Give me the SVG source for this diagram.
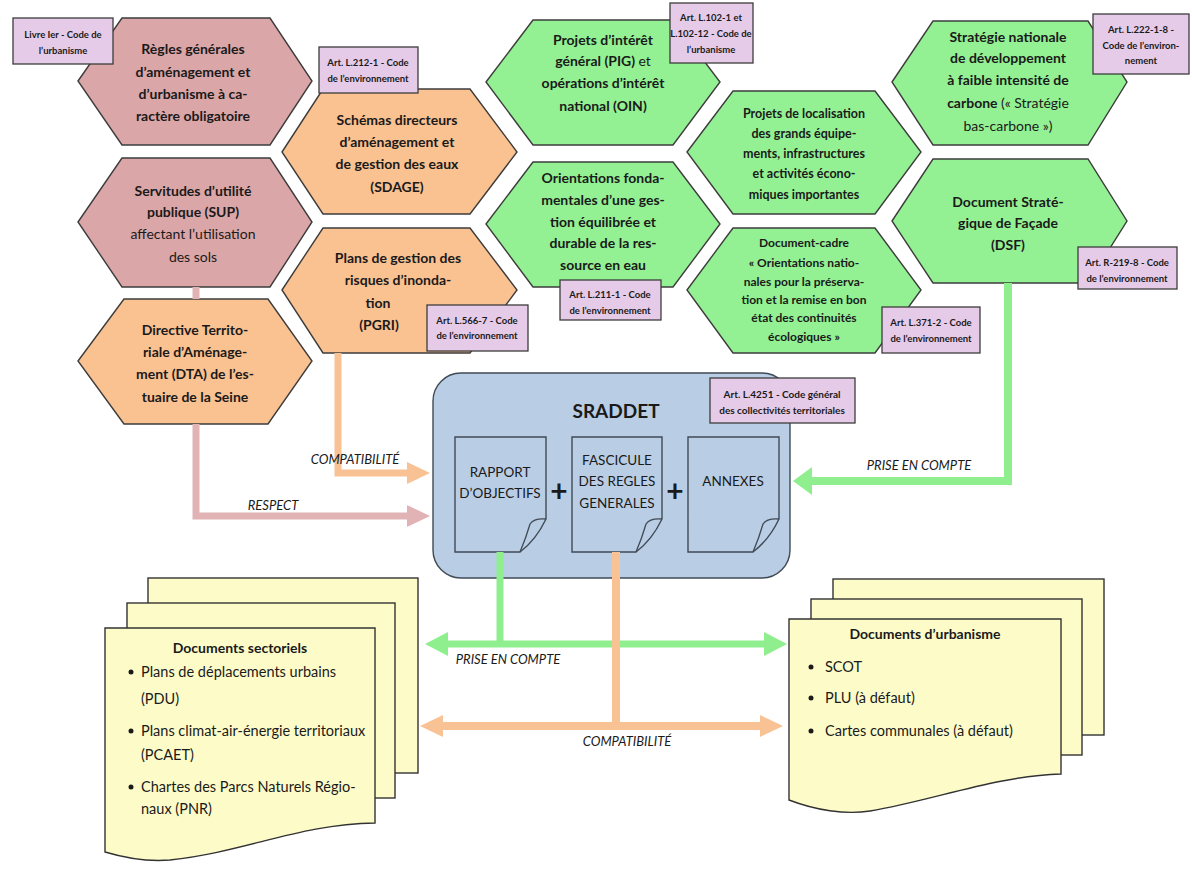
<svg xmlns="http://www.w3.org/2000/svg" width="1192" height="870" viewBox="0 0 1192 870">
<style>
text{font-family:Lato,"Liberation Sans",sans-serif;fill:#1a1a1a;text-anchor:middle}
.hx{stroke:#3c3c3c;stroke-width:1.4}
.pink{fill:#dba6a8}
.orange{fill:#fac191}
.green{fill:#93f193}
.ht{font-size:14px;font-weight:bold}
.hn{font-weight:normal}
.lab rect{fill:#e5cbe8;stroke:#3c3c3c;stroke-width:1.3}
.lt{font-size:9.5px;font-weight:bold}
.page{fill:#fdfcc9;stroke:#333;stroke-width:1.4}
.blue{fill:#b9cde4;stroke:#404a55;stroke-width:1.4}
.dt{font-size:13.5px}
.ct{font-size:13px;font-style:italic}
.bt{font-size:14.5px;text-anchor:start}
.tt{font-size:14px;font-weight:bold}
.ln{fill:none;stroke-linejoin:miter}
</style>
<defs>
<marker id="ahPink" markerUnits="userSpaceOnUse" markerWidth="23" markerHeight="22" viewBox="0 0 23 22" refX="1" refY="11" orient="auto-start-reverse"><path d="M0,0 L23,11 L0,22Z" fill="#e2b3b5"/></marker>
<marker id="ahOr" markerUnits="userSpaceOnUse" markerWidth="23" markerHeight="22" viewBox="0 0 23 22" refX="1" refY="11" orient="auto-start-reverse"><path d="M0,0 L23,11 L0,22Z" fill="#f9c294"/></marker>
<marker id="ahGrR" markerUnits="userSpaceOnUse" markerWidth="19" markerHeight="28" viewBox="0 0 19 28" refX="1" refY="14" orient="auto-start-reverse"><path d="M0,0 L19,14 L0,28Z" fill="#8fef8f"/></marker>
<marker id="ahGr" markerUnits="userSpaceOnUse" markerWidth="23" markerHeight="24" viewBox="0 0 23 24" refX="1" refY="12" orient="auto-start-reverse"><path d="M0,0 L23,12 L0,24Z" fill="#8fef8f"/></marker>
</defs>
<rect width="1192" height="870" fill="#fff"/>

<g id="hex-regles">
<polygon class="hx pink" points="78,81 122,18 270,18 312,81 270,145 122,145"/>
<text class="ht"><tspan x="193" y="54">Règles générales</tspan><tspan x="193" y="77">d’aménagement et</tspan><tspan x="193" y="99">d’urbanisme à ca-</tspan><tspan x="193" y="121">ractère obligatoire</tspan></text>
</g>
<g id="hex-sup">
<polygon class="hx pink" points="78,222 122,158 270,158 312,222 270,287 122,287"/>
<text class="ht"><tspan x="193" y="196">Servitudes d’utilité</tspan><tspan x="193" y="217">publique (SUP)</tspan><tspan x="193" y="239" class="hn">affectant l’utilisation</tspan><tspan x="193" y="262" class="hn">des sols</tspan></text>
</g>
<g id="hex-dta">
<polygon class="hx orange" points="78,361 124,299 268,299 312,361 268,424 124,424"/>
<text class="ht"><tspan x="195" y="335">Directive Territo-</tspan><tspan x="195" y="357">riale d’Aménage-</tspan><tspan x="195" y="379">ment (DTA) de l’es-</tspan><tspan x="195" y="402">tuaire de la Seine</tspan></text>
</g>
<g id="hex-sdage">
<polygon class="hx orange" points="282,152 323,89 470,89 517,152 470,214 323,214"/>
<text class="ht"><tspan x="397" y="125">Schémas directeurs</tspan><tspan x="397" y="147">d’aménagement et</tspan><tspan x="397" y="169">de gestion des eaux</tspan><tspan x="397" y="192">(SDAGE)</tspan></text>
</g>
<g id="hex-pgri">
<polygon class="hx orange" points="282,290 323,228 470,228 517,290 470,353 323,353"/>
<text class="ht"><tspan x="398" y="263">Plans de gestion des</tspan><tspan x="398" y="285">risques d’inonda-</tspan><tspan x="378" y="308">tion</tspan><tspan x="379" y="330">(PGRI)</tspan></text>
</g>
<g id="hex-pig">
<polygon class="hx green" points="486,82 533,20 673,20 720,82 673,145 533,145"/>
<text class="ht"><tspan x="603" y="45">Projets d’intérêt</tspan><tspan x="603" y="66">général (PIG) <tspan class="hn">et</tspan></tspan><tspan x="603" y="88">opérations d’intérêt</tspan><tspan x="603" y="111">national (OIN)</tspan></text>
</g>
<g id="hex-eau">
<polygon class="hx green" points="486,224 533,162 673,162 720,224 673,287 533,287"/>
<text class="ht"><tspan x="603" y="183">Orientations fonda-</tspan><tspan x="603" y="205">mentales d’une ges-</tspan><tspan x="603" y="227">tion équilibrée et</tspan><tspan x="603" y="248">durable de la res-</tspan><tspan x="603" y="270">source en eau</tspan></text>
</g>
<g id="hex-localisation">
<polygon class="hx green" points="687,152 733,91 875,91 921,152 875,214 733,214"/>
<text class="ht" style="font-size:12.5px"><tspan x="804" y="118">Projets de localisation</tspan><tspan x="804" y="138">des grands équipe-</tspan><tspan x="804" y="158">ments, infrastructures</tspan><tspan x="804" y="178">et activités écono-</tspan><tspan x="804" y="199">miques importantes</tspan></text>
</g>
<g id="hex-continuites">
<polygon class="hx green" points="687,290 733,228 875,228 921,290 875,353 733,353"/>
<text class="ht" style="font-size:12px"><tspan x="804" y="247">Document-cadre</tspan><tspan x="804" y="267">« Orientations natio-</tspan><tspan x="804" y="286">nales pour la préserva-</tspan><tspan x="804" y="304">tion et la remise en bon</tspan><tspan x="804" y="322">état des continuités</tspan><tspan x="804" y="341">écologiques »</tspan></text>
</g>
<g id="hex-carbone">
<polygon class="hx green" points="892,82 933,21 1088,21 1127,82 1088,145 933,145"/>
<text class="ht"><tspan x="1008" y="42">Stratégie nationale</tspan><tspan x="1008" y="63">de développement</tspan><tspan x="1008" y="85">à faible intensité de</tspan><tspan x="1008" y="108">carbone <tspan class="hn">(« Stratégie</tspan></tspan><tspan x="1008" y="131" class="hn">bas-carbone »)</tspan></text>
</g>
<g id="hex-dsf">
<polygon class="hx green" points="892,221 933,159 1088,159 1127,221 1088,283 933,283"/>
<text class="ht"><tspan x="1008" y="207">Document Straté-</tspan><tspan x="1008" y="228">gique de Façade</tspan><tspan x="1008" y="250">(DSF)</tspan></text>
</g>

<g id="label-livre" class="lab"><rect x="13" y="18" width="100" height="46"/><text class="lt"><tspan x="63" y="38">Livre Ier - Code de</tspan><tspan x="63" y="54">l’urbanisme</tspan></text></g>
<g id="label-l212" class="lab"><rect x="319" y="47" width="99" height="46"/><text class="lt"><tspan x="368" y="66">Art. L.212-1 - Code</tspan><tspan x="368" y="82">de l’environnement</tspan></text></g>
<g id="label-l566" class="lab"><rect x="427" y="305" width="101" height="46"/><text class="lt"><tspan x="477" y="324">Art. L.566-7 - Code</tspan><tspan x="477" y="339">de l’environnement</tspan></text></g>
<g id="label-l102" class="lab"><rect x="670" y="3" width="83" height="60"/><text class="lt"><tspan x="711" y="21">Art. L.102-1 et</tspan><tspan x="711" y="37">L.102-12 - Code de</tspan><tspan x="711" y="53">l’urbanisme</tspan></text></g>
<g id="label-l211" class="lab"><rect x="560" y="280" width="101" height="40"/><text class="lt"><tspan x="610" y="298">Art. L.211-1 - Code</tspan><tspan x="610" y="314">de l’environnement</tspan></text></g>
<g id="label-l371" class="lab"><rect x="882" y="307" width="98" height="46"/><text class="lt"><tspan x="931" y="326">Art. L.371-2 - Code</tspan><tspan x="931" y="342">de l’environnement</tspan></text></g>
<g id="label-l222" class="lab"><rect x="1093" y="14" width="96" height="60"/><text class="lt"><tspan x="1141" y="33">Art. L.222-1-8 -</tspan><tspan x="1141" y="49">Code de l’environ-</tspan><tspan x="1141" y="64">nement</tspan></text></g>
<g id="label-r219" class="lab"><rect x="1078" y="247" width="99" height="42"/><text class="lt"><tspan x="1127" y="266">Art. R-219-8 - Code</tspan><tspan x="1127" y="282">de l’environnement</tspan></text></g>

<g id="sraddet">
<rect class="blue" x="433" y="373" width="357" height="205" rx="28"/>
<text x="616" y="418" style="font-size:19px;font-weight:bold">SRADDET</text>
<g id="doc-rapport">
<path class="blue" d="M455,437 H546 V519 Q536,540 520,552 H455 Z"/>
<path class="ln" stroke="#404a55" stroke-width="1.3" d="M546,519 Q534,518 530,524 Q526,538 520,552"/>
<text class="dt"><tspan x="500" y="477">RAPPORT</tspan><tspan x="500" y="498">D’OBJECTIFS</tspan></text>
</g>
<text x="559" y="502" style="font-size:30px;font-weight:bold">+</text>
<g id="doc-fascicule">
<path class="blue" d="M572,437 H662 V519 Q652,540 636,552 H572 Z"/>
<path class="ln" stroke="#404a55" stroke-width="1.3" d="M662,519 Q650,518 646,524 Q642,538 636,552"/>
<text class="dt"><tspan x="617" y="465">FASCICULE</tspan><tspan x="617" y="486">DES REGLES</tspan><tspan x="617" y="508">GENERALES</tspan></text>
</g>
<text x="675" y="502" style="font-size:30px;font-weight:bold">+</text>
<g id="doc-annexes">
<path class="blue" d="M688,437 H779 V519 Q769,540 753,552 H688 Z"/>
<path class="ln" stroke="#404a55" stroke-width="1.3" d="M779,519 Q767,518 763,524 Q759,538 753,552"/>
<text class="dt" x="733" y="486">ANNEXES</text>
</g>
</g>
<g id="label-l4251" class="lab"><rect x="710" y="378" width="145" height="45"/><text class="lt" style="font-size:10px"><tspan x="782" y="398">Art. L.4251 - Code général</tspan><tspan x="782" y="414">des collectivités territoriales</tspan></text></g>

<g id="docs-sectoriels">
<rect class="page" x="148" y="578" width="270" height="195"/>
<rect class="page" x="127" y="603" width="268" height="195"/>
<path class="page" d="M105,628 H375 V823 C300,824 245,852 170,860 C145,862 125,858 105,852 Z"/>
<text class="tt" x="240" y="653">Documents sectoriels</text>
<circle cx="131" cy="672" r="2.5" fill="#1a1a1a"/>
<circle cx="131" cy="731" r="2.5" fill="#1a1a1a"/>
<circle cx="131" cy="787" r="2.5" fill="#1a1a1a"/>
<text class="bt"><tspan x="141" y="677">Plans de déplacements urbains</tspan><tspan x="141" y="704">(PDU)</tspan><tspan x="141" y="736">Plans climat-air-énergie territoriaux</tspan><tspan x="141" y="760">(PCAET)</tspan><tspan x="141" y="792">Chartes des Parcs Naturels Régio-</tspan><tspan x="141" y="814">naux (PNR)</tspan></text>
</g>

<g id="docs-urbanisme">
<rect class="page" x="833" y="579" width="271" height="156"/>
<rect class="page" x="811" y="599" width="271" height="156"/>
<path class="page" d="M789,619 H1061 V774 C995,776 935,800 870,811 C845,815 815,810 789,800 Z"/>
<text class="tt" x="925" y="639">Documents d’urbanisme</text>
<circle cx="811" cy="667" r="2.5" fill="#1a1a1a"/>
<circle cx="811" cy="698" r="2.5" fill="#1a1a1a"/>
<circle cx="811" cy="731" r="2.5" fill="#1a1a1a"/>
<text class="bt"><tspan x="825" y="672">SCOT</tspan><tspan x="825" y="703">PLU (à défaut)</tspan><tspan x="825" y="736">Cartes communales (à défaut)</tspan></text>
</g>

<g id="connectors">
<path class="ln" stroke="#e2b3b5" stroke-width="7" d="M196,287 V299 M196,424 V516 H408" marker-end="url(#ahPink)"/>
<path class="ln" stroke="#f9c294" stroke-width="7" d="M338,353 V473 H408" marker-end="url(#ahOr)"/>
<path class="ln" stroke="#8fef8f" stroke-width="8" d="M1008,283 V481 H811" marker-end="url(#ahGrR)"/>
<path class="ln" stroke="#8fef8f" stroke-width="7" d="M500,552 V644"/>
<path class="ln" stroke="#8fef8f" stroke-width="7" d="M447,644 H765" marker-start="url(#ahGr)" marker-end="url(#ahGr)"/>
<path class="ln" stroke="#f9c294" stroke-width="8" d="M616,552 V726"/>
<path class="ln" stroke="#f9c294" stroke-width="8" d="M442,726 H761" marker-start="url(#ahOr)" marker-end="url(#ahOr)"/>
<text class="ct" x="355" y="464">COMPATIBILITÉ</text>
<text class="ct" x="273" y="510">RESPECT</text>
<text class="ct" x="919" y="470">PRISE EN COMPTE</text>
<text class="ct" x="508" y="664">PRISE EN COMPTE</text>
<text class="ct" x="627" y="746">COMPATIBILITÉ</text>
</g>
</svg>
